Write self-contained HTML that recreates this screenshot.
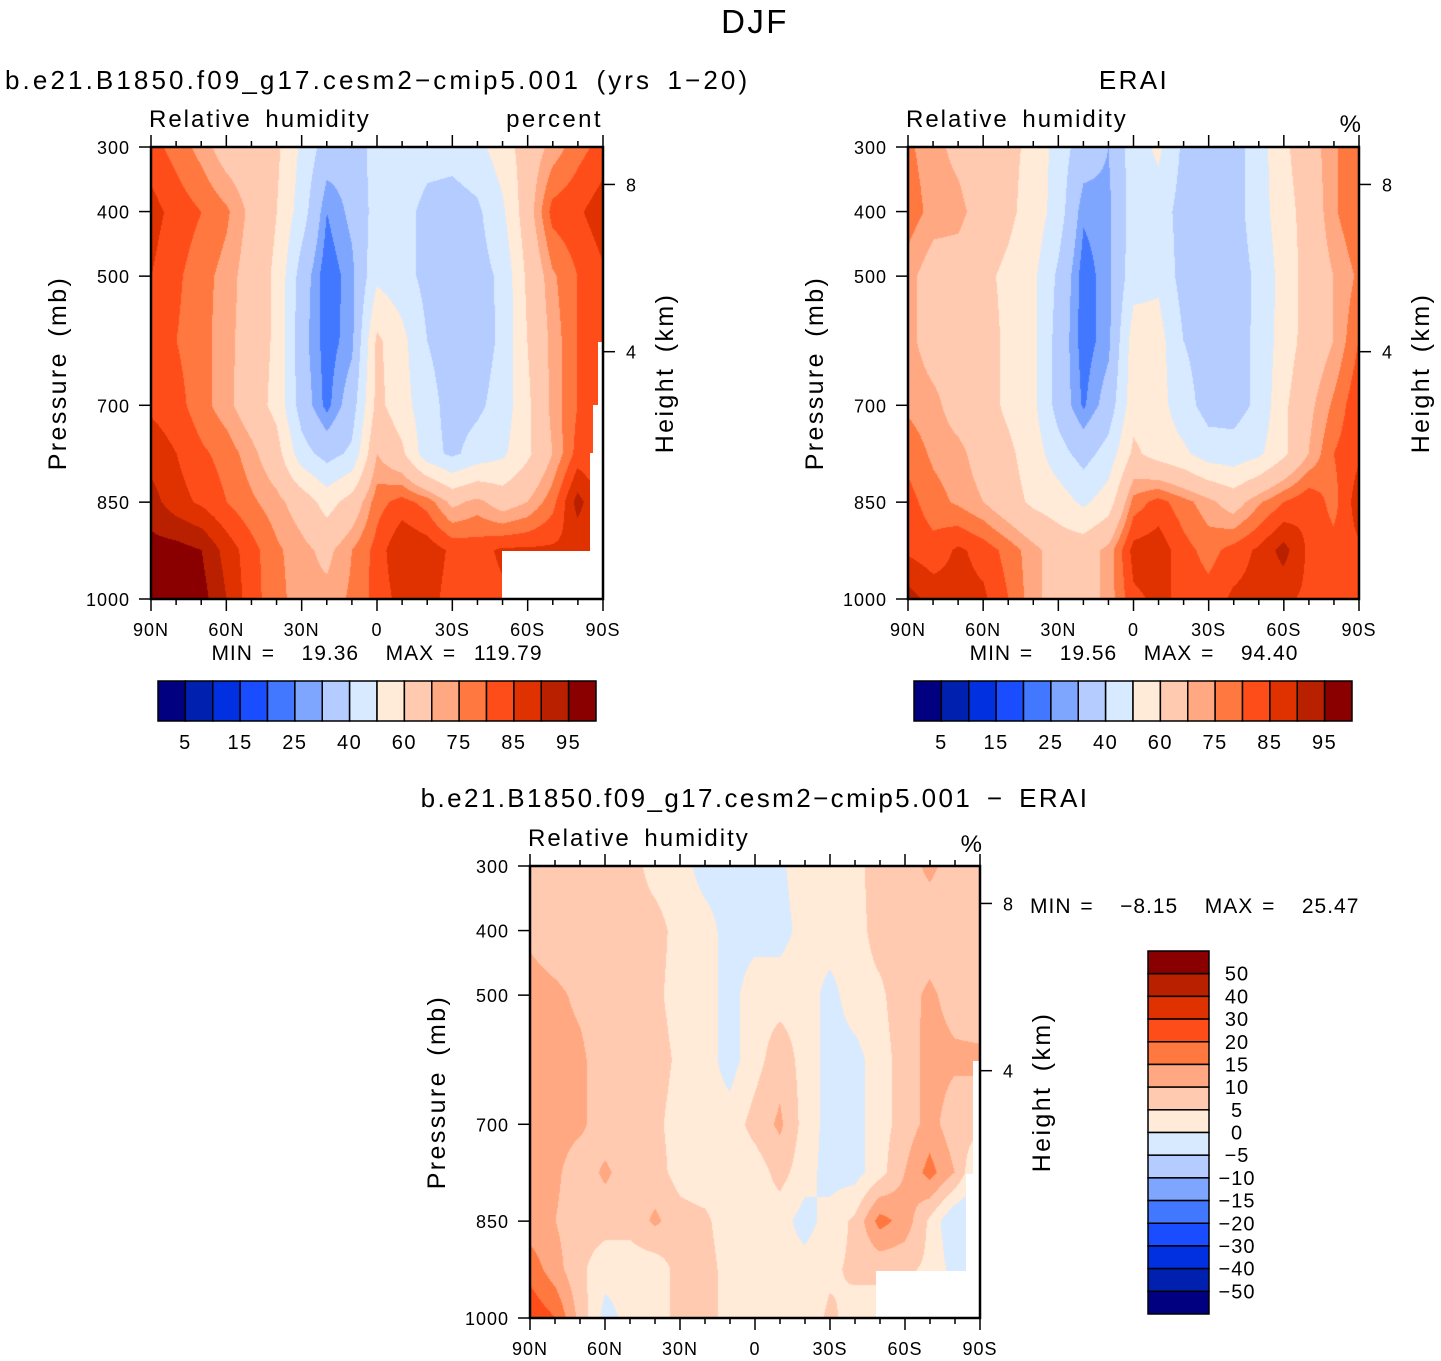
<!DOCTYPE html>
<html><head><meta charset="utf-8"><style>
body{margin:0;background:#fff;width:1441px;height:1361px;position:relative;overflow:hidden;font-family:"Liberation Sans",sans-serif}
canvas{position:absolute}
svg{position:absolute;left:0;top:0}
.t{letter-spacing:2.4px;word-spacing:5px}
.m{letter-spacing:1px;word-spacing:2px}
</style></head><body>
<canvas id="c1" width="452" height="452" style="left:151px;top:147px"></canvas>
<canvas id="c2" width="451" height="452" style="left:908px;top:147px"></canvas>
<canvas id="c3" width="450" height="452" style="left:530px;top:866px"></canvas>
<svg id="s" width="1441" height="1361" font-family="Liberation Sans, sans-serif">
<text class="t" x="755" y="33" font-size="33" text-anchor="middle">DJF</text>
<text x="5" y="89" font-size="26" letter-spacing="3.1" word-spacing="5">b.e21.B1850.f09_g17.cesm2−cmip5.001 (yrs 1−20)</text>
<text class="t" x="1134" y="89" font-size="26" text-anchor="middle">ERAI</text>
<text class="t" x="755" y="807" font-size="26" text-anchor="middle">b.e21.B1850.f09_g17.cesm2−cmip5.001 − ERAI</text>
<text x="149" y="127" font-size="24" letter-spacing="2" word-spacing="5">Relative humidity</text>
<text class="t" x="603" y="127" font-size="24" text-anchor="end">percent</text>
<text x="906" y="127" font-size="24" letter-spacing="2" word-spacing="5">Relative humidity</text>
<text x="1361" y="132" font-size="24" text-anchor="end">%</text>
<text x="528" y="846" font-size="24" letter-spacing="2" word-spacing="5">Relative humidity</text>
<text x="982" y="852" font-size="24" text-anchor="end">%</text>
<text class="m" x="377" y="660" font-size="21" text-anchor="middle">MIN =&#160;&#160;&#160;19.36&#160;&#160;&#160;MAX =&#160;&#160;119.79</text>
<text class="m" x="1134" y="660" font-size="21" text-anchor="middle">MIN =&#160;&#160;&#160;19.56&#160;&#160;&#160;MAX =&#160;&#160;&#160;94.40</text>
<text class="m" x="1030" y="913" font-size="21">MIN =&#160;&#160;&#160;−8.15&#160;&#160;&#160;MAX =&#160;&#160;&#160;25.47</text>
</svg>
<script>
const lats=[90,80,70,60,50,40,30,20,10,0,-10,-20,-30,-40,-50,-60,-70,-80,-90];
const levs=[300,400,500,600,700,775,850,925,1000];
const modelRH=[
[82,78,73,66,64,62,48,35,33,45,50,45,44,47,55,65,72,78,82],
[87,83,80,76,68,60,45,25,32,44,45,36,35,38,48,66,82,84,88],
[85,81,77,73,66,58,35,21,28,48,44,37,34,36,42,62,74,80,84],
[83,80,77,72,66,58,33,22,28,62,53,40,35,35,42,60,72,80,85],
[84,82,77,72,65,57,35,23,35,63,54,44,36,38,44,58,72,80,86],
[88,85,81,78,72,64,44,36,42,70,62,44,38,44,48,58,70,82,80],
[92,87,84,80,76,72,66,56,64,78,82,78,68,72,66,70,78,92,84],
[97,97,95,88,82,76,72,68,75,82,90,88,84,83,86,86,86,86,86],
[97,97,97,90,82,77,72,72,76,82,87,87,83,83,84,84,84,84,84]];
const eraiRH=[
[76,72,68,64,62,58,45,35,30,45,52,38,38,36,45,58,66,74,80],
[78,73,72,66,62,56,45,26,28,45,45,36,34,36,45,56,64,74,80],
[72,66,66,62,58,52,38,22,28,46,48,36,35,35,42,54,64,70,76],
[72,66,66,64,58,52,36,22,28,55,54,40,36,36,42,55,64,70,80],
[74,72,66,64,58,52,36,24,34,56,54,44,36,36,42,58,68,76,84],
[78,74,72,66,62,55,44,36,44,62,56,52,45,44,48,58,70,80,84],
[82,77,74,70,64,58,55,48,55,77,82,77,72,66,74,80,84,78,88],
[84,82,86,83,78,72,66,66,72,87,88,82,78,82,86,92,84,82,84],
[92,88,87,86,80,72,66,66,72,84,86,84,82,86,87,86,84,82,82]];
const diffRH=[
[7,7,7,7,7,3,2,-2,-2,-2,-1,3,3,3,8,8,11,8,8],
[9,7,7,7,7,7,3,2,-2,-2,-2,2,3,3,7,7,7,7,7],
[12,11,9,7,7,6,3,2,-2,3,3,3,-2,3,4,8,11,8,7],
[12,12,11,7,7,7,4,2,-2,3,8,3,-2,-2,3,7,12,11,11],
[12,12,11,7,7,6,3,2,2,7,11,3,-2,-2,3,7,12,7,7],
[12,11,7,11,7,7,3,2,2,2,7,2,-2,-2,3,10,17,10,-2],
[12,10,7,7,7,11,7,6,2,2,2,-2,2,6,17,13,4,-5,-5],
[18,12,6,2,2,2,7,7,3,2,2,2,4,6,6,6,4,-2,-2],
[24,20,8,-2,2,2,7,7,3,2,2,2,6,3,3,3,3,3,3]];
const rhLevels=[5,10,15,20,25,30,40,50,60,70,75,80,85,90,95];
const rhLabels=["5","15","25","40","60","75","85","95"];
const diffLevels=[-50,-40,-30,-20,-15,-10,-5,0,5,10,15,20,30,40,50];
const diffLabels=["50","40","30","20","15","10","5","0","−5","−10","−15","−20","−30","−40","−50"];
const latLabels=["90N","60N","30N","0","30S","60S","90S"];
const presTicks=[300,400,500,700,850,1000];
const kmTicks=[[8,358],[4,617]];
const colors=["#000080","#0020b0","#0030e0","#1a4dff","#4278ff","#7fa6ff","#b4ccff","#d8eaff","#ffebd8","#ffcab0","#ffa882","#ff7840","#ff4d1a","#e03200","#b82000","#8a0000"];
const NS="http://www.w3.org/2000/svg";
const svg=document.getElementById('s');
function el(t,a,txt){const e=document.createElementNS(NS,t);for(const k in a)e.setAttribute(k,a[k]);if(txt!==undefined)e.textContent=txt;svg.appendChild(e);return e;}
function hex(c){return [parseInt(c.substr(1,2),16),parseInt(c.substr(3,2),16),parseInt(c.substr(5,2),16)];}
const rgb=colors.map(hex);
const nC=lats.length, dLat=180/(nC-1);
function sample(grid,lat,p){
  let fx=(90-lat)/dLat; let i=Math.min(nC-2,Math.floor(fx)); let tx=fx-i;
  let j=0; while(j<levs.length-2 && p>levs[j+1]) j++;
  let ty=(p-levs[j])/(levs[j+1]-levs[j]);
  const a=grid[j][i],b=grid[j][i+1],c=grid[j+1][i],d=grid[j+1][i+1];
  return a*(1-tx)*(1-ty)+b*tx*(1-ty)+c*(1-tx)*ty+d*tx*ty;
}
function drawField(id,grid,levels){
  const cv=document.getElementById(id),ctx=cv.getContext('2d');
  const W=cv.width,H=cv.height,img=ctx.createImageData(W,H);
  for(let y=0;y<H;y++){const p=300+700*y/(H-1);
    for(let x=0;x<W;x++){const lat=90-180*x/(W-1);const v=sample(grid,lat,p);
      let k=0;while(k<levels.length&&v>=levels[k])k++;
      const c=rgb[k],o=(y*W+x)*4;img.data[o]=c[0];img.data[o+1]=c[1];img.data[o+2]=c[2];img.data[o+3]=255;}}
  ctx.putImageData(img,0,0);
}
function axes(x0,y0,w,h,name){
  el('rect',{x:x0,y:y0,width:w,height:h,fill:'none',stroke:'#000','stroke-width':2.5,});
  const xs=v=>x0+w*(90-v)/180, ys=p=>y0+h*(p-300)/700;
  for(let l=90;l>=-90;l-=10){const X=xs(l);const maj=l%30===0;const L=maj?12:6;
    const t1=el('line',{x1:X,y1:y0+h,x2:X,y2:y0+h+L,stroke:'#000','stroke-width':1.5});
    
    const t2=el('line',{x1:X,y1:y0,x2:X,y2:y0-L,stroke:'#000','stroke-width':1.5});
    }
  latLabels.forEach((s,i)=>{const t=el('text',{x:x0+w*i/6,y:y0+h+37,'font-size':18,'text-anchor':'middle','letter-spacing':1},s);
    });
  presTicks.forEach(p=>{const Y=ys(p);
    const t=el('line',{x1:x0,y1:Y,x2:x0-12,y2:Y,stroke:'#000','stroke-width':1.5});
    
    const lb=el('text',{x:x0-21,y:Y+7,'font-size':18,'text-anchor':'end','letter-spacing':1},String(p));
    });
  kmTicks.forEach(([km,p])=>{const Y=ys(p);
    const t=el('line',{x1:x0+w,y1:Y,x2:x0+w+12,y2:Y,stroke:'#000','stroke-width':1.5});
    
    const lb=el('text',{x:x0+w+23,y:Y+7,'font-size':18},String(km));
    });
  const a=el('text',{x:0,y:0,'font-size':25,'text-anchor':'middle','letter-spacing':2.4,'word-spacing':5,transform:`translate(${x0-85},${y0+h/2}) rotate(-90)`},'Pressure (mb)');
  
  const b=el('text',{x:0,y:0,'font-size':25,'text-anchor':'middle','letter-spacing':2.4,'word-spacing':5,transform:`translate(${x0+w+70},${y0+h/2}) rotate(-90)`},'Height (km)');
  
}
function hbar(x0,y0,w,h,name){
  const bw=w/16;
  colors.forEach((c,i)=>{const r=el('rect',{x:x0+i*bw,y:y0,width:bw,height:h,fill:c,stroke:'#000','stroke-width':1.5});
    });
  rhLabels.forEach((s,i)=>{const t=el('text',{x:x0+bw*(1+2*i),y:y0+h+28,'font-size':20,'text-anchor':'middle','letter-spacing':1.5},s);
    });
}
drawField('c1',modelRH,rhLevels);
drawField('c2',eraiRH,rhLevels);
drawField('c3',diffRH,diffLevels);
el('rect',{x:502,y:551,width:100,height:48,fill:'#fff',});
el('rect',{x:598,y:342,width:5,height:210,fill:'#fff',});
el('rect',{x:593,y:405,width:10,height:147,fill:'#fff',});
el('rect',{x:590,y:453,width:13,height:99,fill:'#fff',});
el('rect',{x:876,y:1271,width:104,height:47,fill:'#fff',});
el('rect',{x:973,y:1061,width:7,height:211,fill:'#fff',});
el('rect',{x:966,y:1174,width:14,height:98,fill:'#fff',});
axes(151,147,452,452,'p1');
axes(908,147,451,452,'p2');
axes(530,866,450,452,'p3');
hbar(158,681,438,40,'p1-colorbar');
hbar(914,681,438,40,'p2-colorbar');
const vb=363/16;
colors.slice().reverse().forEach((c,i)=>{const r=el('rect',{x:1148,y:951+i*vb,width:61,height:vb,fill:c,stroke:'#000','stroke-width':1.5});
  });
diffLabels.forEach((s,i)=>{const t=el('text',{x:1237,y:951+vb*(i+1)+7,'font-size':20,'text-anchor':'middle','letter-spacing':1},s);
  });
</script>
</body></html>
